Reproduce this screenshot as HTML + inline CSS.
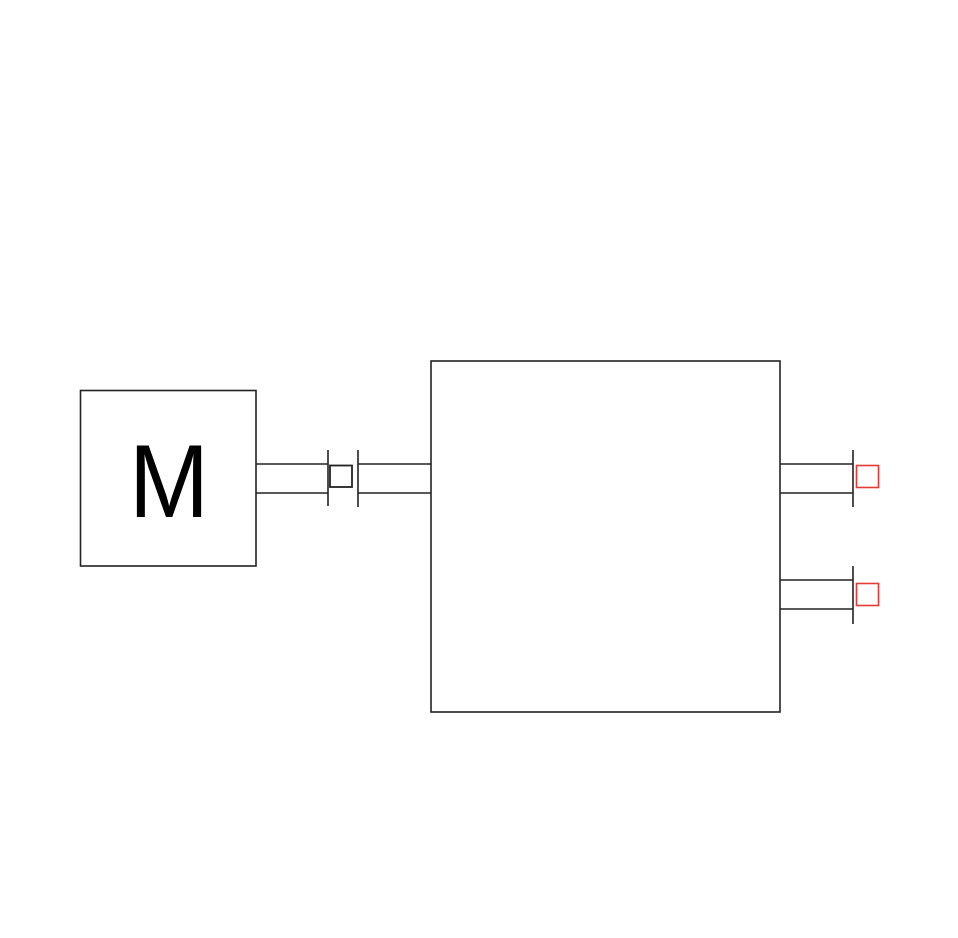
<!DOCTYPE html>
<html><head><meta charset="utf-8"><style>
html,body{margin:0;padding:0;background:#fff;}
svg{display:block;}
</style></head><body>
<svg width="958" height="938" viewBox="0 0 958 938" xmlns="http://www.w3.org/2000/svg">
<g fill="none" stroke="#222" stroke-width="1.6">
<rect x="80.5" y="390.5" width="175.5" height="175.5"/>
<rect x="431" y="361" width="349" height="351"/>
<line x1="256" y1="464" x2="328" y2="464"/>
<line x1="256" y1="493" x2="328" y2="493"/>
<line x1="328" y1="450" x2="328" y2="506"/>
<rect x="330" y="465.5" width="22" height="21.5" stroke-width="1.8"/>
<line x1="358" y1="450" x2="358" y2="507"/>
<line x1="358" y1="464" x2="431" y2="464"/>
<line x1="358" y1="493" x2="431" y2="493"/>
<line x1="780" y1="464" x2="853" y2="464"/>
<line x1="780" y1="493" x2="853" y2="493"/>
<line x1="853" y1="450" x2="853" y2="507"/>
<line x1="780" y1="580" x2="853" y2="580"/>
<line x1="780" y1="609" x2="853" y2="609"/>
<line x1="853" y1="566" x2="853" y2="624"/>
</g>
<g fill="none" stroke="#e53935" stroke-width="1.6">
<rect x="856.5" y="465.5" width="22" height="22"/>
<rect x="856.5" y="583.5" width="22" height="22"/>
</g>
<text x="129" y="517" font-family="Liberation Sans, sans-serif" font-size="104" textLength="80" lengthAdjust="spacingAndGlyphs" fill="#000">M</text>
</svg>
</body></html>
